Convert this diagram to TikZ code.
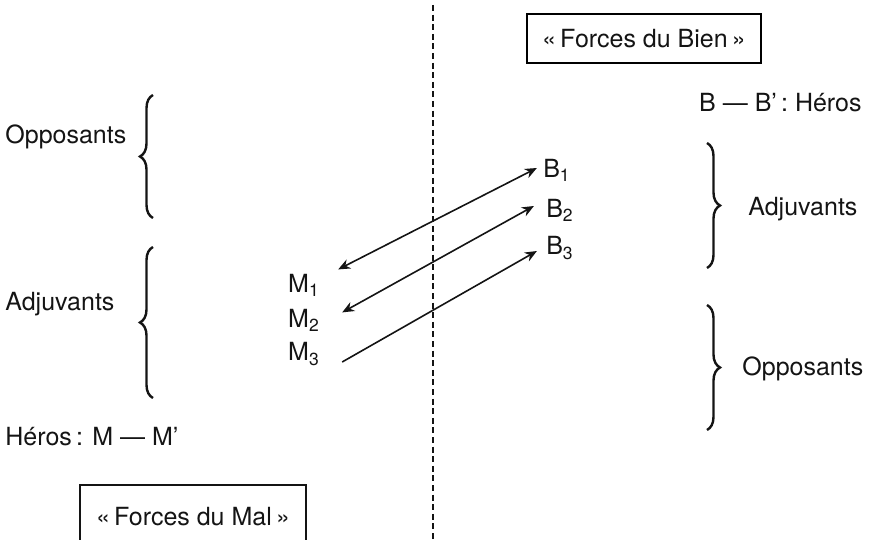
\documentclass[tikz,border=0pt]{standalone}
\usepackage{fontspec}
\setmainfont{TeX Gyre Heros}
\usetikzlibrary{arrows.meta, positioning, calc, decorations.pathreplacing}
\definecolor{ink}{HTML}{141414}

\tikzset{
  lbl/.style={text=ink, font=\fontsize{12.5}{15}\selectfont, inner sep=0pt},
  brc/.style={ink, line width=1.2pt, decorate, decoration={brace, amplitude=6.5pt}},
  link/.style={ink, line width=0.8pt}
}

\begin{document}
\begin{tikzpicture}[x=0.5pt, y=-0.5pt, >={Stealth[length=6pt, width=5pt]}]

\useasboundingbox (0,0) rectangle (873,540);

% Dividing line
\coordinate (Dtop) at (433,5);
\coordinate (Dbot) at (433,540);
\draw[ink, line width=1.3pt, dash pattern=on 3pt off 1.8pt] (Dtop) -- (Dbot);

% --- Forces du Bien (right) ---
\node[lbl, draw, line width=0.6pt, minimum width=117pt, minimum height=24.5pt] (bien) at (644,38.5)
  {«\,Forces du Bien\,»};
\node[lbl, anchor=east] (heroB) at (862,103) {B — B'\,: Héros};

\draw[brc] (707,143) -- (707,268);
\node[lbl, anchor=west] (adjB) at (748,209) {Adjuvants};
\draw[brc] (707,305) -- (707,430);
\node[lbl, anchor=west] (oppB) at (742,369) {Opposants};

% Points on the right
\node[lbl] (b1) at (557,170) {B\textsubscript{1}};
\node[lbl] (b2) at (560,210) {B\textsubscript{2}};
\node[lbl] (b3) at (560,248) {B\textsubscript{3}};

% --- Forces du Mal (left) ---
\draw[brc] (153,218) -- (153,95);
\node[lbl, anchor=west] (oppM) at (5,137) {Opposants};
\draw[brc] (153,398) -- (153,247);
\node[lbl, anchor=west] (adjM) at (5,304) {Adjuvants};

\node[lbl, anchor=west] (heroM) at (5,437) {Héros\,: M — M'};

\node[lbl] (mal) at (193,517) {«\,Forces du Mal\,»};
\draw[ink, line width=0.6pt] (80,540) -- (80,485) -- (306,485) -- (306,540);

% Points on the left
\node[lbl] (m1) at (304,285) {M\textsubscript{1}};
\node[lbl] (m2) at (304,320) {M\textsubscript{2}};
\node[lbl] (m3) at (304,354) {M\textsubscript{3}};

% Relations
\draw[link, <->] ([shift={(9pt,2pt)}]m1.north east) -- ([shift={(-3pt,1pt)}]b1.west);
\draw[link, <->] ([shift={(11pt,-2pt)}]m2.north east) -- ([shift={(-6pt,2pt)}]b2.west);
\draw[link, ->] ([shift={(11pt,-4pt)}]m3.east) -- ([shift={(-4.5pt,-1.5pt)}]b3.west);

\end{tikzpicture}
\end{document}
